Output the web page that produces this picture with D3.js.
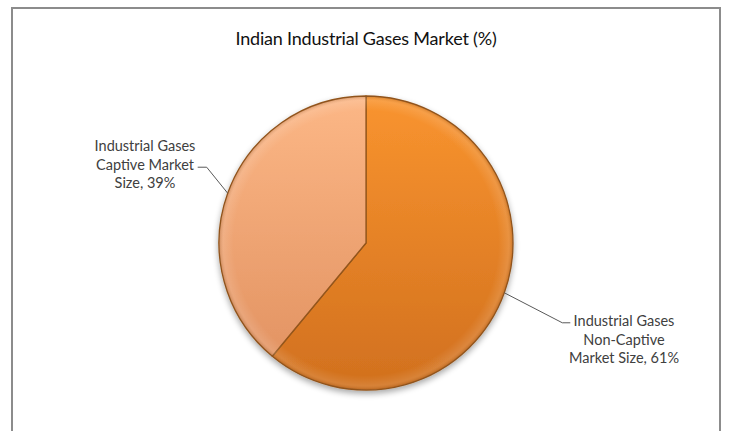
<!DOCTYPE html>
<html>
<head>
<meta charset="utf-8">
<script src="https://cdn.jsdelivr.net/npm/d3@7"></script>
<style>
  body { margin: 0; background: #fff; }
  text { font-family: Lato, "Open Sans", sans-serif; }
</style>
</head>
<body>
<svg id="canvas" width="729" height="431"></svg>
<script>
// data
var title = "Indian Industrial Gases Market (%)";
var categories = ["Industrial Gases Non-Captive Market Size", "Industrial Gases Captive Market Size"];
var values = [61, 39];
var labelLines = [
  ["Industrial Gases", "Non-Captive", "Market Size, 61%"],
  ["Industrial Gases", "Captive Market", "Size, 39%"]
];

// ************************************************************************************************** //
// Setup

var width = 729, height = 431;
var cx = 366, cy = 243, radius = 147;

var svg = d3.select('#canvas');
var defs = svg.append('defs');

var grads = [
  { id: 'g0', top: '#f9942f', bottom: '#d1701e' },
  { id: 'g1', top: '#fcb786', bottom: '#e39463' }
];
grads.forEach(function(g){
  var lg = defs.append('linearGradient').attr('id', g.id).attr('x1', 0).attr('y1', 0).attr('x2', 0).attr('y2', 1);
  lg.append('stop').attr('offset', '0%').attr('stop-color', g.top);
  lg.append('stop').attr('offset', '100%').attr('stop-color', g.bottom);
});

// soft bevel highlight
var rg = defs.append('radialGradient').attr('id', 'bevel').attr('cx', '50%').attr('cy', '50%').attr('r', '50%');
rg.append('stop').attr('offset', '90%').attr('stop-color', '#fff').attr('stop-opacity', 0);
rg.append('stop').attr('offset', '97%').attr('stop-color', '#fff').attr('stop-opacity', 0.12);
rg.append('stop').attr('offset', '100%').attr('stop-color', '#6b3a10').attr('stop-opacity', 0.25);

var shadow = defs.append('filter').attr('id', 'shadow').attr('x', '-20%').attr('y', '-20%').attr('width', '140%').attr('height', '140%');
shadow.append('feGaussianBlur').attr('in', 'SourceAlpha').attr('stdDeviation', 3);
shadow.append('feOffset').attr('dx', 0).attr('dy', 3).attr('result', 'blur');
shadow.append('feComponentTransfer').append('feFuncA').attr('type', 'linear').attr('slope', 0.35);
var merge = shadow.append('feMerge');
merge.append('feMergeNode');
merge.append('feMergeNode').attr('in', 'SourceGraphic');

// frame
svg.append('rect').attr('x', 12).attr('y', 8).attr('width', 708).attr('height', 440)
  .style('fill', '#fff').style('stroke', '#8c8c8c').style('stroke-width', 2);

// title
svg.append('text').attr('x', 366).attr('y', 45).attr('text-anchor', 'middle')
  .style('font-size', '18px').style('letter-spacing', '-0.2px').style('fill', '#111').text(title);

// ************************************************************************************************** //
// Pie

var pie = d3.pie().sort(null).value(function(d){ return d; });
var arc = d3.arc().innerRadius(0).outerRadius(radius);
var arcs = pie(values);

var g = svg.append('g').attr('transform', 'translate(' + cx + ',' + cy + ')');
var slices = g.append('g').attr('filter', 'url(#shadow)');
slices.selectAll('path').data(arcs).enter().append('path')
  .attr('d', arc)
  .style('fill', function(d, i){ return 'url(#' + grads[i].id + ')'; })
  .style('stroke', '#94561d').style('stroke-width', 1.3).style('stroke-linejoin', 'round');

g.append('circle').attr('r', radius).style('fill', 'url(#bevel)').style('pointer-events', 'none');

// ************************************************************************************************** //
// Labels

var layout = [
  { dx: 58, dy: 30, hx: 8, anchorX: 624, firstY: 326 },
  { dx: -21, dy: -26, hx: -9, anchorX: 145, firstY: 151 }
];
var lineH = 18.5;

arcs.forEach(function(d, i){
  var a = (d.startAngle + d.endAngle) / 2;
  var ex = cx + Math.sin(a) * radius, ey = cy - Math.cos(a) * radius;
  var L = layout[i];
  var bx = ex + L.dx, by = ey + L.dy;
  svg.append('polyline')
    .attr('points', [[ex, ey], [bx, by], [bx + L.hx, by]].map(function(p){ return p.join(','); }).join(' '))
    .style('fill', 'none').style('stroke', '#595959').style('stroke-width', 1);
  var t = svg.append('text').attr('text-anchor', 'middle').style('font-size', '14.5px').style('fill', '#404040');
  labelLines[i].forEach(function(s, k){
    t.append('tspan').attr('x', L.anchorX).attr('y', L.firstY + k * lineH).text(s);
  });
});
</script>
</body>
</html>
